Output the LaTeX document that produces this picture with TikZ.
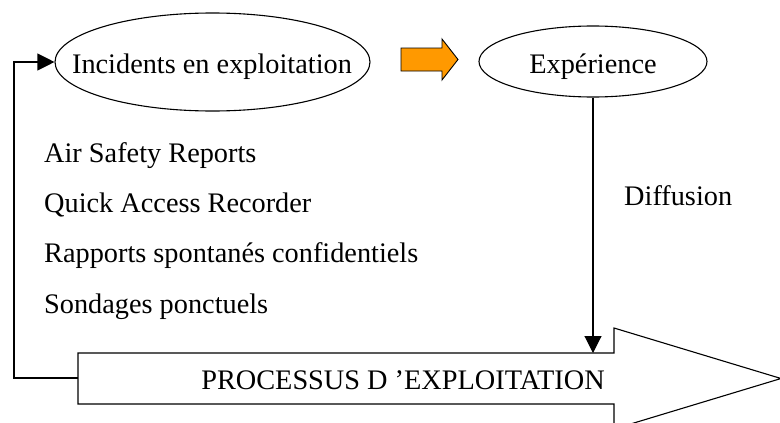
\documentclass[tikz,border=0pt]{standalone}
\usepackage{fontspec}
\setmainfont{Liberation Serif}
\usetikzlibrary{arrows.meta,shapes.geometric}
\definecolor{arroworange}{HTML}{FF9900}
\tikzset{
  txt/.style={inner sep=0pt, font=\fontsize{28.3pt}{34pt}\selectfont},
  oval/.style={ellipse, draw, line width=1.1pt, inner sep=0pt},
  conn/.style={line width=1.1pt, -{Triangle[length=17pt,width=17pt]}},
  outline/.style={draw, line width=1.1pt, line join=miter}
}
\begin{document}
\begin{tikzpicture}[x=1pt,y=-1pt]
\useasboundingbox (0,0) rectangle (780,423);
% ellipses
\node[oval, minimum width=315pt, minimum height=98pt] (inc) at (212.5,62) {};
\node[txt, anchor=base] (inctxt) at (212,73) {Incidents en exploitation};
\node[oval, minimum width=228pt, minimum height=71pt] (exp) at (593,61.5) {};
\node[txt, anchor=base] (exptxt) at (593,73) {Expérience};
% orange block arrow
\path[outline, fill=arroworange, line width=0.9pt]
  (401,48) -- (442,48) -- (442,39) -- (458,59.5) -- (442,80) -- (442,71) -- (401,71) -- cycle;
% list
\node[txt, anchor=base west] (l1) at (44,162) {Air Safety Reports};
\node[txt, anchor=base west] (l2) at (44,212) {Quick Access Recorder};
\node[txt, anchor=base west] (l3) at (44,262) {Rapports spontanés confidentiels};
\node[txt, anchor=base west] (l4) at (44,313) {Sondages ponctuels};
\node[txt, anchor=base west] (diff) at (624,205) {Diffusion};
% big process arrow
\path[outline, fill=white]
  (78,353) -- (614,353) -- (614,328) -- (781,378.5) -- (614,429) -- (614,404) -- (78,404) -- cycle;
\node[txt, anchor=base] (proc) at (403,389) {PROCESSUS D 'EXPLOITATION};
\coordinate (shaftW) at (78,378);
\coordinate (shaftTop) at (593,353);
\coordinate (corner) at (14,378);
% connectors
\draw[conn] (exp.south) -- (shaftTop);
\draw[conn] (shaftW) -- (corner) |- (inc.west);
\end{tikzpicture}
\end{document}
